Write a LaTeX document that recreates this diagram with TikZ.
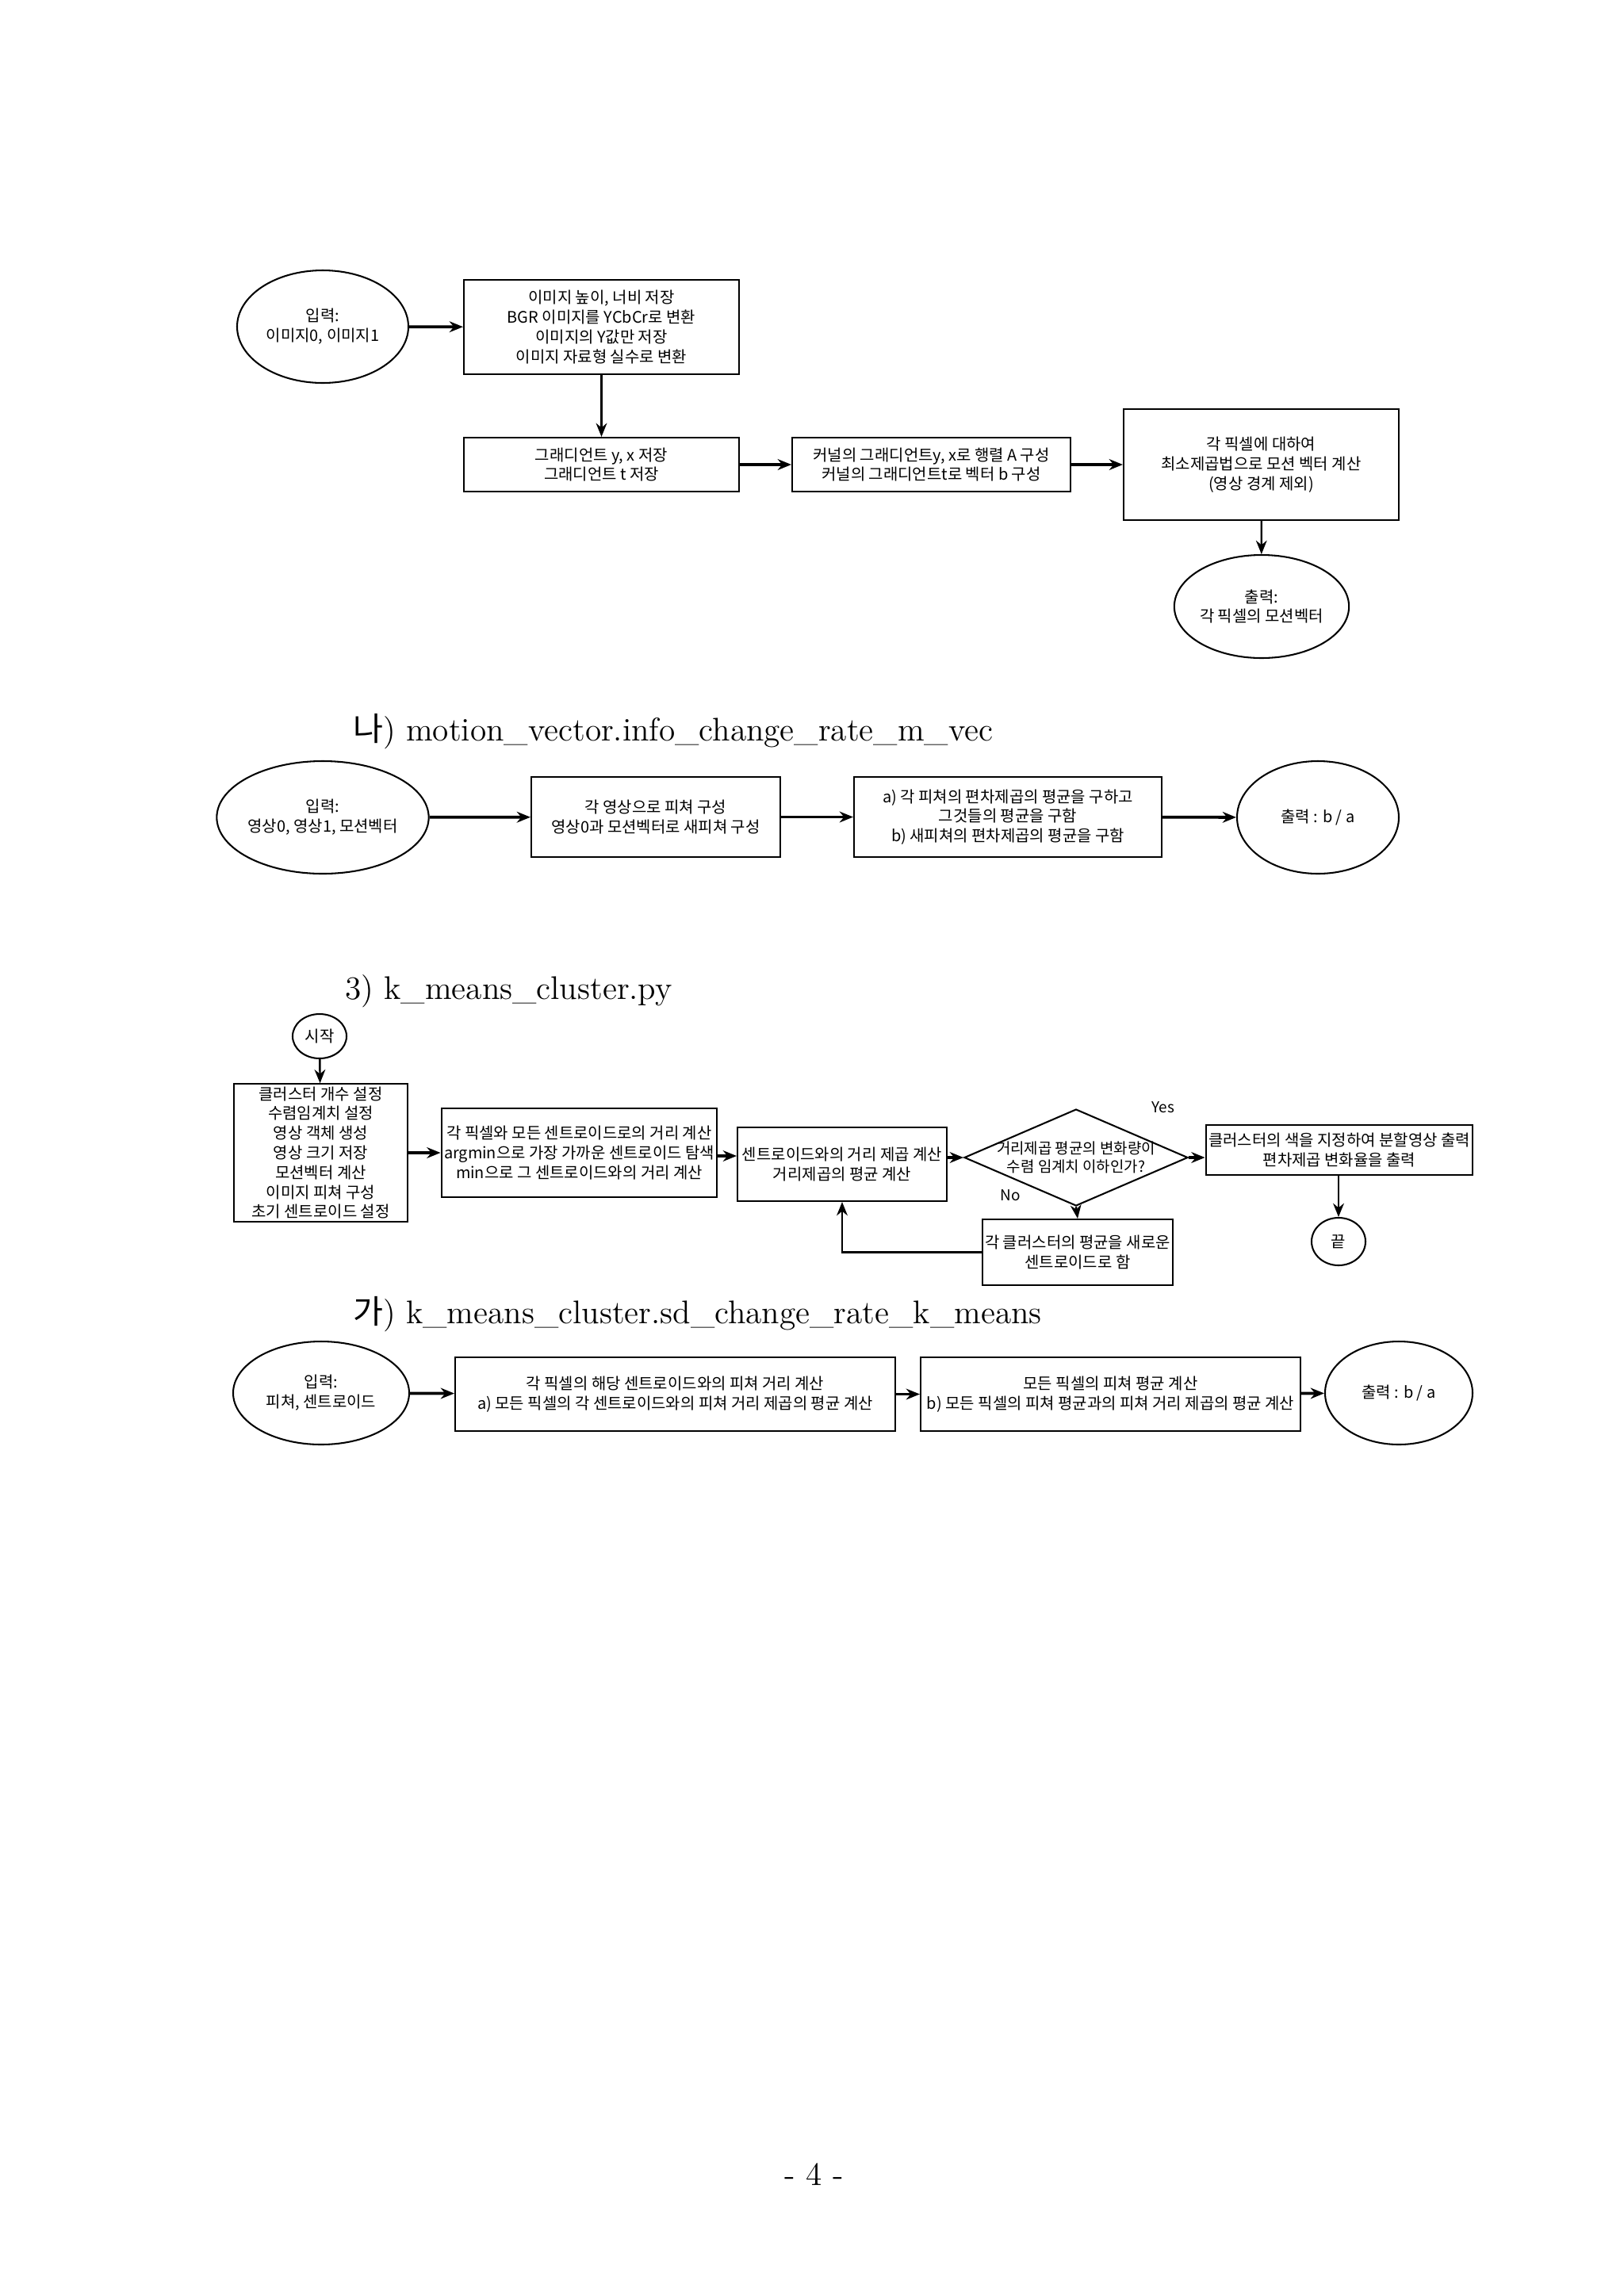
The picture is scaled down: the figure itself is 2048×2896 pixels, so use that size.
\documentclass[tikz,border=0pt]{standalone}
\usepackage{fontspec}
\newfontfamily\kr{Noto Sans CJK KR}
\usetikzlibrary{shapes.geometric,arrows.meta}
\begin{document}
\begin{tikzpicture}[x=0.2907pt,y=-0.2907pt,
  box/.style={draw,line width=0.6pt,rectangle,align=center,inner sep=1pt,font=\kr\fontsize{5.8}{7.2}\selectfont},
  ell/.style={draw,line width=0.6pt,ellipse,align=center,inner sep=0pt,font=\kr\fontsize{5.8}{7.2}\selectfont},
  arr/.style={-{Stealth[length=5pt,width=4pt]},line width=0.7pt},
  arrb/.style={-{Stealth[length=5pt,width=4pt]},line width=1.1pt},
  head/.style={anchor=west,font=\fontsize{12}{14}\selectfont},
  lab/.style={font=\kr\fontsize{5.5}{6.5}\selectfont}]
\useasboundingbox (0,0) rectangle (2048,2896);
% Section 1
\node[ell,minimum width=216*0.2907pt,minimum height=142*0.2907pt] (in1) at (407,412) {입력:\\이미지0, 이미지1};
\node[box,minimum width=347*0.2907pt,minimum height=119*0.2907pt] (b1) at (758.5,412.5) {이미지 높이, 너비 저장\\BGR 이미지를 YCbCr로 변환\\이미지의 Y값만 저장\\이미지 자료형 실수로 변환};
\node[box,minimum width=347*0.2907pt,minimum height=68*0.2907pt] (b2) at (758.5,586) {그래디언트 y, x 저장\\그래디언트 t 저장};
\node[box,minimum width=351*0.2907pt,minimum height=68*0.2907pt] (b3) at (1174.5,586) {커널의 그래디언트y, x로 행렬 A 구성\\커널의 그래디언트t로 벡터 b 구성};
\node[box,minimum width=347*0.2907pt,minimum height=140*0.2907pt] (b4) at (1590.5,586) {각 픽셀에 대하여\\최소제곱법으로 모션 벡터 계산\\(영상 경계 제외)};
\node[ell,minimum width=196*0.2907pt,minimum height=130*0.2907pt] (out1) at (1591,765) {출력:\\각 픽셀의 모션벡터};
\draw[arrb] (in1) -- (b1);
\draw[arr] (b1) -- (b2);
\draw[arrb] (b2) -- (b3);
\draw[arrb] (b3) -- (b4);
\draw[arr] (b4) -- (out1);
% Section 2
\node[head] (h2) at (433,923) {{\kr 나}) motion\_vector.info\_change\_rate\_m\_vec};
\node[ell,minimum width=222*0.2907pt,minimum height=142*0.2907pt] (in2) at (407,1031) {입력:\\영상0, 영상1, 모션벡터};
\node[box,minimum width=314*0.2907pt,minimum height=101*0.2907pt] (b5) at (827,1030.5) {각 영상으로 피쳐 구성\\영상0과 모션벡터로 새피쳐 구성};
\node[box,minimum width=388*0.2907pt,minimum height=101*0.2907pt] (b6) at (1271,1030.5) {a) 각 피쳐의 편차제곱의 평균을 구하고\\그것들의 평균을 구함\\b) 새피쳐의 편차제곱의 평균을 구함};
\node[ell,minimum width=204*0.2907pt,minimum height=142*0.2907pt] (out2) at (1662,1031) {출력 : b / a};
\draw[arrb] (in2) -- (b5);
\draw[arrb] (b5) -- (b6);
\draw[arrb] (b6) -- (out2);
% Section 3
\node[head] (h3) at (423,1250) {3) k\_means\_cluster.py};
\node[ell,minimum width=68*0.2907pt,minimum height=56*0.2907pt] (st) at (403,1307) {시작};
\node[box,minimum width=219*0.2907pt,minimum height=168*0.2907pt] (b7) at (404.5,1454) {클러스터 개수 설정\\수렴임계치 설정\\영상 객체 생성\\영상 크기 저장\\모션벡터 계산\\이미지 피쳐 구성\\초기 센트로이드 설정};
\node[box,minimum width=347*0.2907pt,minimum height=112*0.2907pt] (b8) at (730.5,1454) {각 픽셀와 모든 센트로이드로의 거리 계산\\argmin으로 가장 가까운 센트로이드 탐색\\min으로 그 센트로이드와의 거리 계산};
\node[box,minimum width=264*0.2907pt,minimum height=93*0.2907pt] (b9) at (1062,1468.5) {센트로이드와의 거리 제곱 계산\\거리제곱의 평균 계산};
\node[draw,line width=0.6pt,diamond,minimum width=282*0.2907pt,minimum height=122*0.2907pt,inner sep=0pt] (dec) at (1357,1460) {};
\node[lab,align=center] (dect) at (dec) {거리제곱 평균의 변화량이\\수렴 임계치 이하인가?};
\node[box,minimum width=332*0.2907pt,minimum height=63*0.2907pt] (b10) at (1689,1450.5) {클러스터의 색을 지정하여 분할영상 출력\\편차제곱 변화율을 출력};
\node[box,minimum width=234*0.2907pt,minimum height=83*0.2907pt] (b11) at (1359,1579.5) {각 클러스터의 평균을 새로운\\센트로이드로 함};
\node[ell,minimum width=68*0.2907pt,minimum height=60*0.2907pt] (en) at (1688,1566) {끝};
\node[lab] (yes) at (1467,1397) {Yes};
\node[lab] (no) at (1274,1508) {No};
\draw[arr] (st) -- (b7);
\draw[arrb] (b7.east |- b8.west) -- (b8.west);
\draw[arrb] (b8.east |- 0,1458) -- (b9.west |- 0,1458);
\draw[arrb] (b9.east |- dec.west) -- (dec.west);
\draw[arrb] (dec.east) -- (dec.east -| b10.west);
\draw[arr] (dec.south) -- (b11.north);
\draw[arr] (b11.west) -- (b11.west -| b9.south) -- (b9.south);
\draw[arr] (b10.south -| en.north) -- (en.north);
% Section 4
\node[head] (h4) at (433,1658) {{\kr 가}) k\_means\_cluster.sd\_change\_rate\_k\_means};
\node[ell,minimum width=222*0.2907pt,minimum height=130*0.2907pt] (in3) at (405,1757) {입력:\\피쳐, 센트로이드};
\node[box,minimum width=555*0.2907pt,minimum height=93*0.2907pt] (b12) at (851.5,1758.5) {각 픽셀의 해당 센트로이드와의 피쳐 거리 계산\\a) 모든 픽셀의 각 센트로이드와의 피쳐 거리 제곱의 평균 계산};
\node[box,minimum width=479*0.2907pt,minimum height=93*0.2907pt] (b13) at (1400.5,1758.5) {모든 픽셀의 피쳐 평균 계산\\b) 모든 픽셀의 피쳐 평균과의 피쳐 거리 제곱의 평균 계산};
\node[ell,minimum width=186*0.2907pt,minimum height=130*0.2907pt] (out3) at (1764,1757) {출력 : b / a};
\draw[arrb] (in3) -- (b12);
\draw[arrb] (b12) -- (b13);
\draw[arrb] (b13) -- (out3);
% page number
\node[font=\fontsize{12}{14}\selectfont] (pg) at (1027,2743) {- 4 -};
\end{tikzpicture}
\end{document}
